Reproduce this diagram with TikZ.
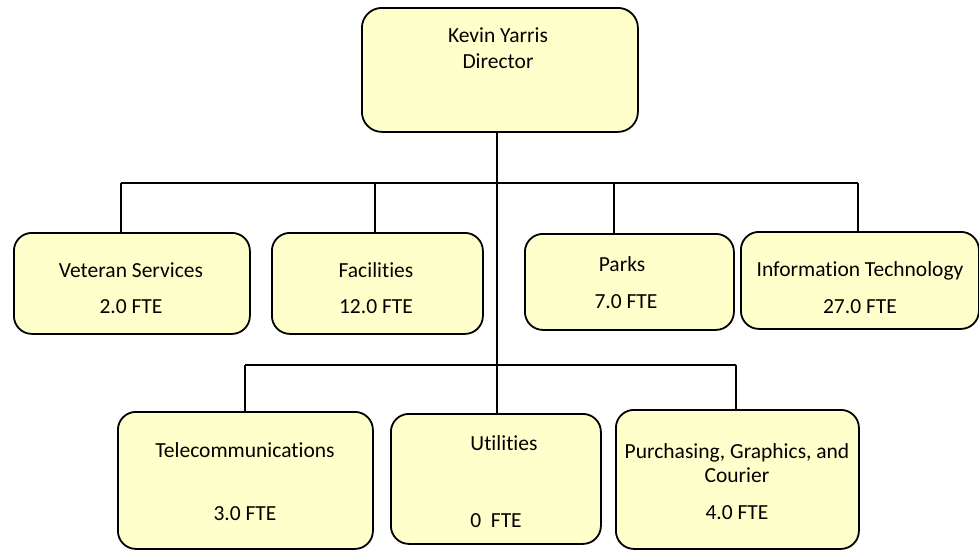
\documentclass[tikz,border=0pt]{standalone}
\usepackage{fontspec}
\setmainfont{Carlito}[Ligatures=NoCommon]
\definecolor{boxfill}{HTML}{FFFFCC}
\tikzset{
  unitbox/.style={draw=black, fill=boxfill, line width=1.8pt, rounded corners=18pt,
    inner sep=0pt, anchor=north west},
  lbl/.style={anchor=base, inner sep=0pt, font=\fontsize{21.5}{25}\selectfont},
  wire/.style={line width=2.2pt, draw=black}
}
\begin{document}
\begin{tikzpicture}[x=1pt,y=-1pt]
\useasboundingbox (0,0) rectangle (979,550);

% boxes
\node[unitbox, rounded corners=20pt, minimum width=276pt, minimum height=124pt] (dir) at (361,7) {};
\node[unitbox, minimum width=236pt, minimum height=101pt] (vet) at (13,232) {};
\node[unitbox, minimum width=211pt, minimum height=101pt] (fac) at (271,232) {};
\node[unitbox, minimum width=209pt, minimum height=96pt] (parks) at (524,233) {};
\node[unitbox, minimum width=238pt, minimum height=97pt] (it) at (740,231) {};
\node[unitbox, minimum width=255pt, minimum height=137pt] (tel) at (117,411) {};
\node[unitbox, minimum width=210pt, minimum height=130pt] (util) at (390,413) {};
\node[unitbox, minimum width=243pt, minimum height=139pt] (purch) at (615,409) {};

% labels
\node[lbl] (dirA) at (498,42) {Kevin Yarris};
\node[lbl] (dirB) at (498,68) {Director};
\node[lbl] (vetA) at (131,277) {Veteran Services};
\node[lbl] (vetB) at (131,313) {2.0 FTE};
\node[lbl] (facA) at (376,277) {Facilities};
\node[lbl] (facB) at (376,313) {12.0 FTE};
\node[lbl] (parksA) at (622,271) {Parks};
\node[lbl] (parksB) at (626,308) {7.0 FTE};
\node[lbl] (itA) at (860,276) {Information Technology};
\node[lbl] (itB) at (860,313) {27.0 FTE};
\node[lbl] (telA) at (245,457) {Telecommunications};
\node[lbl] (telB) at (245,520) {3.0 FTE};
\node[lbl] (utilA) at (504,450) {Utilities};
\node[lbl] (utilB) at (496,527) {0~ FTE};
\node[lbl] (purchA) at (737,458) {Purchasing, Graphics, and};
\node[lbl] (purchB) at (737,482) {Courier};
\node[lbl] (purchC) at (737,519) {4.0 FTE};

% junction points
\coordinate (trunk) at (497,183);
\coordinate (tl) at (121,183);
\coordinate (tr) at (858,183);
\coordinate (fj) at (375,183);
\coordinate (pj) at (614,183);
\coordinate (bl) at (245,365);
\coordinate (br) at (736,365);

% connectors
\draw[wire] (dir.south -| trunk) -- (trunk |- util.north);
\draw[wire] (tl) -- (tr);
\draw[wire] (tl) -- (tl |- vet.north);
\draw[wire] (fj) -- (fj |- fac.north);
\draw[wire] (pj) -- (pj |- parks.north);
\draw[wire] (tr) -- (tr |- it.north);
\draw[wire] (bl) -- (br);
\draw[wire] (bl) -- (bl |- tel.north);
\draw[wire] (br) -- (br |- purch.north);
\end{tikzpicture}
\end{document}
